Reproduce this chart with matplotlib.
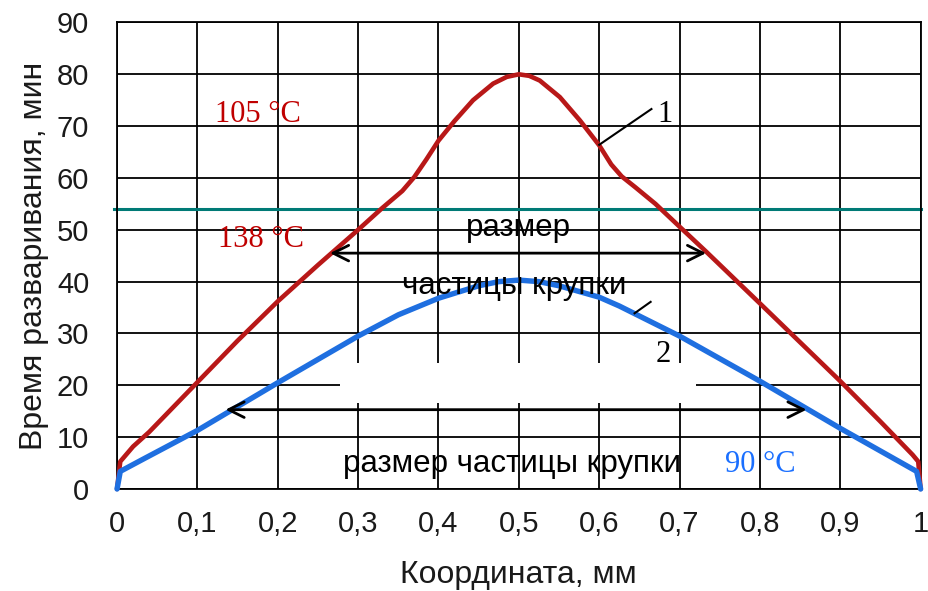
import matplotlib
matplotlib.use("Agg")
import matplotlib.pyplot as plt
from matplotlib.patches import Rectangle

# ---- data ----
red_x = [0, 0.004, 0.02, 0.04, 0.07, 0.1, 0.15, 0.2, 0.25, 0.3, 0.33, 0.355,
         0.37, 0.385, 0.4, 0.42, 0.443, 0.468, 0.485, 0.5, 0.513, 0.526,
         0.551, 0.576, 0.6, 0.615, 0.628, 0.645, 0.67, 0.7, 0.733, 0.8,
         0.85, 0.9, 0.95, 0.97, 0.99, 0.997, 1.0]
red_y = [0, 5.3, 8.2, 11.0, 15.8, 20.6, 28.6, 36.2, 43.2, 50.0, 54.2, 57.5,
         60.2, 63.6, 67.2, 71.0, 75.0, 78.2, 79.5, 80.0, 79.7, 78.8,
         75.6, 71.1, 66.3, 62.6, 60.3, 58.2, 55.0, 50.6, 45.8, 35.8,
         28.3, 20.8, 13.0, 9.8, 6.6, 5.3, 0]

blue_x = [0, 0.004, 0.033, 0.1, 0.2, 0.3, 0.35, 0.4, 0.45, 0.475, 0.5, 0.525,
          0.55, 0.6, 0.625, 0.7, 0.8, 0.9, 0.995, 1.0]
blue_y = [0, 3.4, 5.8, 11.3, 20.5, 29.5, 33.6, 36.8, 39.2, 40, 40.3, 40,
          39.2, 37, 35.3, 29.5, 20.8, 11.7, 3.4, 0]

threshold = 54
x_ticks = [0, 0.1, 0.2, 0.3, 0.4, 0.5, 0.6, 0.7, 0.8, 0.9, 1.0]
x_tick_labels = ["0", "0,1", "0,2", "0,3", "0,4", "0,5", "0,6", "0,7", "0,8", "0,9", "1"]
y_ticks = [0, 10, 20, 30, 40, 50, 60, 70, 80, 90]

upper_arrow = (0.265, 0.733, 45.5)
lower_arrow = (0.135, 0.858, 15.3)

RED = "#b81818"
BLUE = "#1f6fe0"
TEAL = "#007a76"
SANS = "Liberation Sans"
SERIF = "Liberation Serif"

fig = plt.figure(figsize=(9.29, 5.91), dpi=100)
ax = fig.add_axes([0.126, 0.1726, 0.865, 0.7894])

ax.set_xlim(0, 1)
ax.set_ylim(0, 90)
ax.set_xticks(x_ticks)
ax.set_xticklabels(x_tick_labels)
ax.set_yticks(y_ticks)
ax.grid(True, color="black", lw=1.3, zorder=0)
ax.set_axisbelow(True)
for s in ax.spines.values():
    s.set_color("black")
    s.set_linewidth(1.3)
ax.tick_params(length=0, labelsize=21, pad=0)
ax.tick_params(axis="x", pad=15)
ax.tick_params(axis="y", pad=20)
for lab in ax.get_xticklabels() + ax.get_yticklabels():
    lab.set_fontfamily(SANS)
    lab.set_color("#1a1a1a")

# white patch that hides part of the grid
ax.add_patch(Rectangle((0.277, 16.6), 0.721 - 0.277, 24.3 - 16.6,
                       facecolor="white", edgecolor="none", zorder=1))

ax.axhline(threshold, color=TEAL, lw=2.2, zorder=2, clip_on=False,
           xmin=-0.004, xmax=1.0)

ax.plot(red_x, red_y, color=RED, lw=3.3, zorder=3, solid_joinstyle="round",
        solid_capstyle="round", clip_on=False)
ax.plot(blue_x, blue_y, color=BLUE, lw=3.9, zorder=3, solid_joinstyle="round",
        solid_capstyle="round", clip_on=False)

arrow_kw = dict(arrowstyle="<->", lw=2.0, color="black", mutation_scale=28,
                shrinkA=0, shrinkB=0)
ax.annotate("", xy=(upper_arrow[0], upper_arrow[2]),
            xytext=(upper_arrow[1], upper_arrow[2]), arrowprops=arrow_kw, zorder=4)
ax.annotate("", xy=(lower_arrow[0], lower_arrow[2]),
            xytext=(lower_arrow[1], lower_arrow[2]), arrowprops=arrow_kw, zorder=4)

# curve labels with leader lines
ax.plot([0.6, 0.665], [66.4, 73.3], color="black", lw=1.5, zorder=4)
ax.text(0.682, 72.3, "1", fontsize=22, family=SERIF, ha="center", va="center")
ax.plot([0.644, 0.664], [33.9, 36.1], color="black", lw=1.5, zorder=4)
ax.text(0.68, 25.9, "2", fontsize=22, family=SERIF, ha="center", va="center")

ax.text(0.175, 72.2, "105 °C", fontsize=22, family=SERIF, color="#c00000",
        ha="center", va="center")
ax.text(0.179, 48.2, "138 °C", fontsize=22, family=SERIF, color="#c00000",
        ha="center", va="center")
ax.text(0.8, 4.8, "90 °C", fontsize=22, family=SERIF, color="#1a6fff",
        ha="center", va="center")

ax.text(0.5, 50.3, "размер", fontsize=22.5, family=SANS, ha="center",
        va="center", zorder=5)
ax.text(0.494, 39.2, "частицы крупки", fontsize=22.5, family=SANS, ha="center",
        va="center", zorder=5)
ax.text(0.492, 4.8, "размер частицы крупки", fontsize=22.5, family=SANS,
        ha="center", va="center", zorder=5)

ax.set_xlabel("Координата, мм", fontsize=23, family=SANS, color="#1a1a1a",
              labelpad=16)
ax.set_ylabel("Время разваривания, мин", fontsize=23, family=SANS,
              color="#1a1a1a", labelpad=6)

fig.savefig("out.png", dpi=100)
